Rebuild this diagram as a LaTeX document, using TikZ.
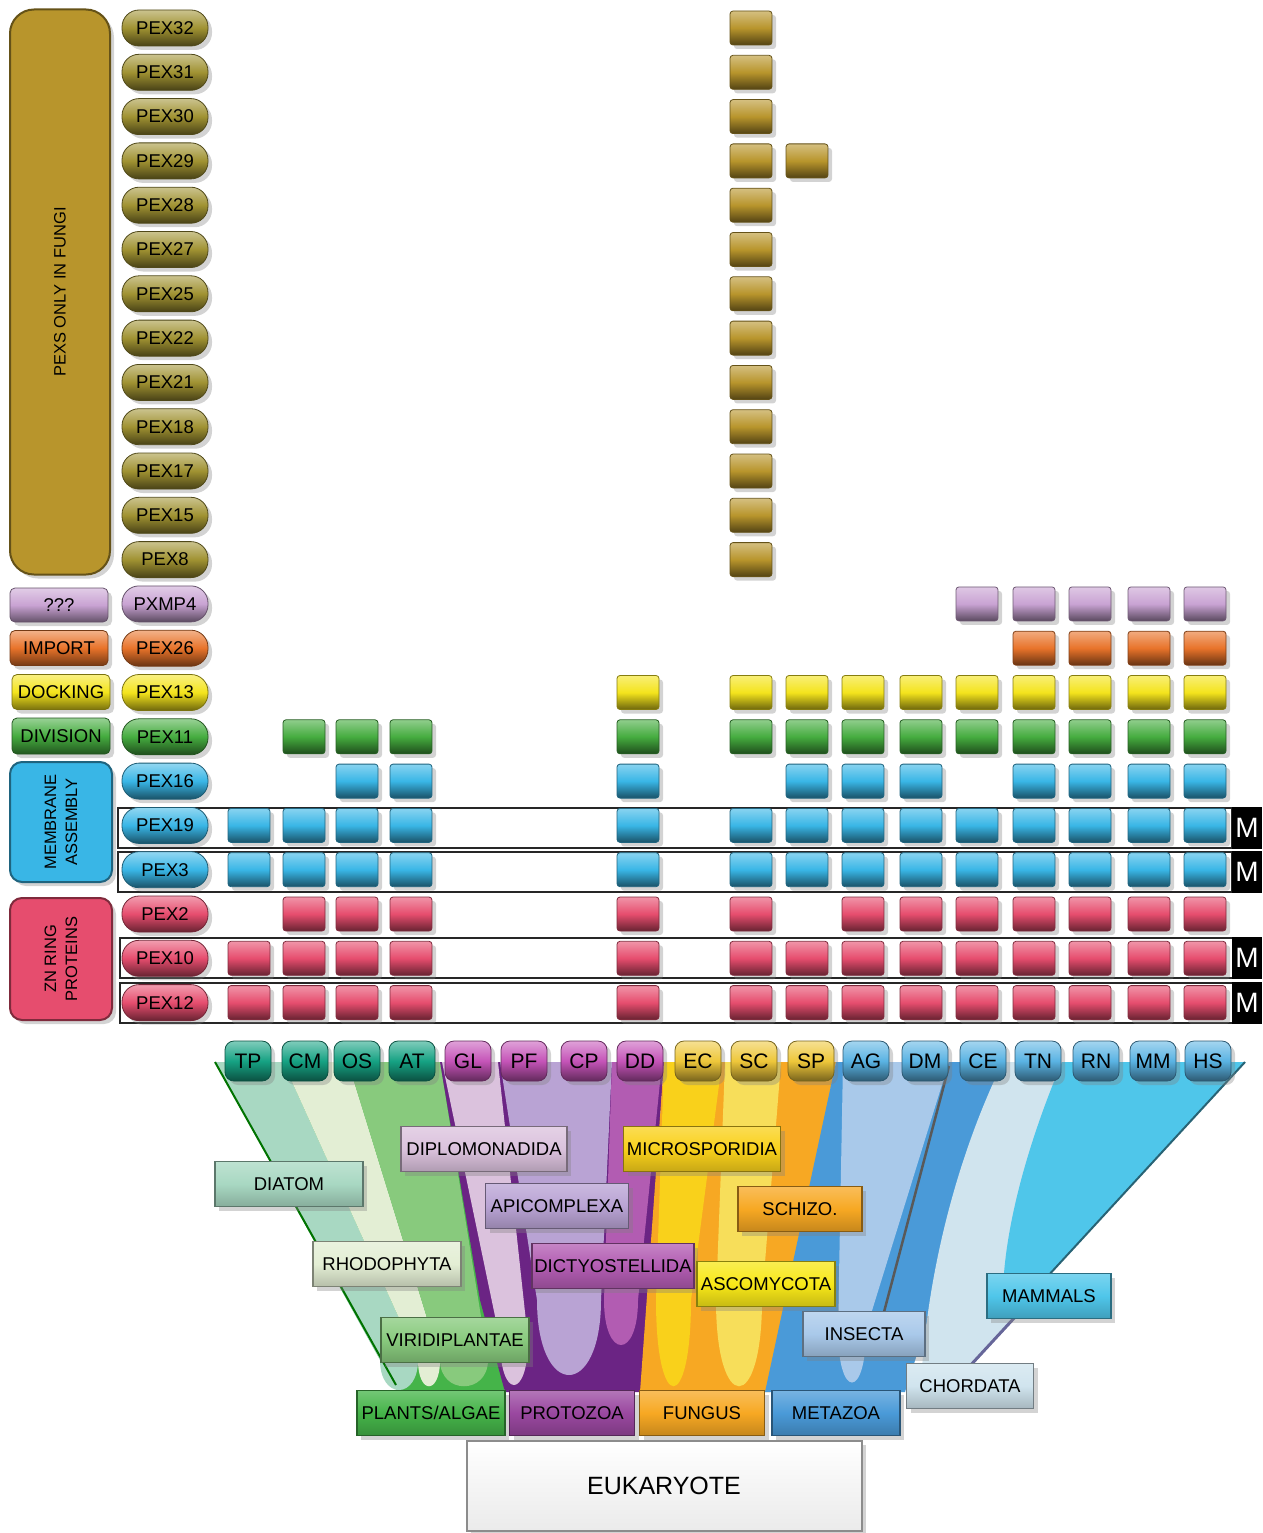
\documentclass[tikz,border=0pt]{standalone}
\usepackage{fontspec}
\setmainfont{Liberation Sans}
\usetikzlibrary{shadows,calc}
\definecolor{cGold}{HTML}{B8952C}
\definecolor{cPillGold}{HTML}{A09232}
\definecolor{cLilac}{HTML}{C9A3D3}
\definecolor{cOrange}{HTML}{E8732A}
\definecolor{cYellow}{HTML}{F4E41C}
\definecolor{cGreen}{HTML}{45AC3F}
\definecolor{cBlue}{HTML}{39B6E6}
\definecolor{cPink}{HTML}{E64D6E}
\definecolor{hTeal}{HTML}{16A283}
\definecolor{hMag}{HTML}{C554B8}
\definecolor{hYel}{HTML}{EEC73A}
\definecolor{hBlue}{HTML}{5AB3E3}
\definecolor{bPlant}{HTML}{45B449}
\definecolor{bTP}{HTML}{A8D8C2}
\definecolor{bCM}{HTML}{E3EED4}
\definecolor{bOS}{HTML}{88CA7D}
\definecolor{bProto}{HTML}{6B2484}
\definecolor{bGL}{HTML}{DBC2DD}
\definecolor{bPF}{HTML}{B9A3D4}
\definecolor{bDD}{HTML}{B25CB2}
\definecolor{bFung}{HTML}{F7A823}
\definecolor{bEC}{HTML}{F9D11B}
\definecolor{bSC}{HTML}{F7DE5A}
\definecolor{bMeta}{HTML}{4A9AD8}
\definecolor{bIns}{HTML}{A9C9EA}
\definecolor{bChord}{HTML}{D0E4EE}
\definecolor{bMam}{HTML}{4FC6EA}
\definecolor{gAscoY}{HTML}{F8E818}
\definecolor{gProto}{HTML}{9A48A0}
\newcommand\uband[7]{\fill[#1] (#2,1062) -- (#4,#6) .. controls (#4,#7) and (#5,#7) .. (#5,#6) -- (#3,1062) -- cycle;}
\newcommand\lfont{\fontsize{18.5}{20}\selectfont}
\newcommand\gfont{\fontsize{18.5}{20}\selectfont}
\newcommand\vfont{\fontsize{16.5}{21}\selectfont}
\tikzset{
  shd/.style={drop shadow={shadow xshift=4pt, shadow yshift=-4pt, opacity=0.35}},
  gem/.style={rounded corners=3pt, minimum width=42pt, minimum height=34pt, inner sep=0pt,
    draw=#1!55!black, line width=0.8pt, top color=#1!60!white, bottom color=#1!45!black, middle color=#1, shd},
  pill/.style={rounded corners=17pt, minimum width=86pt, minimum height=36pt, inner sep=0pt,
    draw=#1!50!black, line width=0.8pt, top color=#1!55!white, bottom color=#1!45!black, middle color=#1, font=\lfont, shd},
  cat/.style={rounded corners=5pt, minimum width=98pt, inner sep=0pt,
    draw=#1!50!black, line width=0.8pt, top color=#1!55!white, bottom color=#1!50!black, middle color=#1, font=\lfont, shd},
  catbig/.style={inner sep=0pt, fill=#1, draw=#1!55!black, line width=2pt, shd},
  hdr/.style={rounded corners=9pt, minimum width=46pt, minimum height=40pt, inner sep=0pt,
    draw=#1!50!black, line width=0.8pt, top color=#1!55!white, bottom color=#1!50!black, middle color=#1,
    font=\fontsize{21}{22}\selectfont, shd},
  gbox/.style={minimum height=45pt, inner sep=0pt, draw=#1!55!black, line width=1.2pt,
    top color=#1!75!white, bottom color=#1!80!black, middle color=#1, font=\gfont, shd},
  mbox/.style={draw=black!85, line width=2.4pt, minimum width=1114pt, minimum height=40pt, inner sep=0pt},
  mlab/.style={fill=black, text=white, minimum width=30pt, minimum height=42pt, inner sep=0pt,
    font=\fontsize{28}{30}\selectfont},
}
\begin{document}
\begin{tikzpicture}[x=1pt,y=-1pt]
\useasboundingbox (0,0) rectangle (1262,1533);
% ---------------- tree bands ----------------
\fill[bPlant] (215,1062) -- (440,1062) -- (505,1392) -- (398,1392) -- cycle;
\uband{bTP}{215}{283}{380}{418}{1360}{1400}
\uband{bCM}{283}{348}{418}{440}{1360}{1395}
\uband{bOS}{348}{440}{440}{488}{1360}{1395}
\draw[green!45!black, line width=2pt] (215,1062) -- (396,1385);
\fill[bProto] (440,1062) -- (664,1062) -- (642,1392) -- (505,1392) -- (480,1300) -- cycle;
\uband{bGL}{442}{498}{500}{528}{1340}{1400}
\uband{bPF}{500}{612}{537}{601}{1300}{1400}
\uband{bDD}{612}{662}{604}{638}{1300}{1360}
\fill[bFung] (664,1062) -- (836,1062) -- (770,1392) -- (640,1392) -- cycle;
\uband{bEC}{664}{722}{656}{691}{1300}{1415}
\uband{bSC}{725}{781}{716}{762}{1300}{1415}
\fill[bMeta] (836,1062) -- (1010,1062) -- (905,1392) -- (765,1392) -- cycle;
\uband{bIns}{843}{949}{838}{866}{1330}{1400}
\draw[black!65, line width=2.5pt] (949,1066) -- (884,1312);
\fill[bChord] (1003,1062) .. controls (960,1150) and (930,1260) .. (922,1368) -- (970,1368) -- (1040,1290) -- (1065,1062) -- cycle;
\draw[gray!80!blue, line width=3pt] (1040,1290) -- (968,1368);
\fill[bMam] (1062,1062) .. controls (1025,1150) and (1005,1230) .. (1003,1290) -- (1035,1290) -- (1245,1062) -- cycle;
\draw[bMam!50!black, line width=2pt] (1245,1062) -- (1035,1290);
% ---------------- group boxes ----------------
\node[gbox=bTP, minimum width=148pt] (diatom) at (289,1184) {DIATOM};
\node[gbox=bCM, minimum width=148pt] (rhodo) at (387,1264) {RHODOPHYTA};
\node[gbox=bOS, minimum width=148pt] (virid) at (455,1340) {VIRIDIPLANTAE};
\node[gbox=bPlant, minimum width=148pt] (plants) at (431,1413) {PLANTS/ALGAE};
\node[gbox=bGL, minimum width=166pt] (diplo) at (484,1149) {DIPLOMONADIDA};
\node[gbox=bPF, minimum width=143pt] (apico) at (557,1206) {APICOMPLEXA};
\node[gbox=bDD, minimum width=162pt] (dicty) at (613,1266) {DICTYOSTELLIDA};
\node[gbox=gProto, minimum width=125pt] (proto) at (572,1413) {PROTOZOA};
\node[gbox=bEC, minimum width=157pt] (micro) at (702,1149) {MICROSPORIDIA};
\node[gbox=bFung, minimum width=124pt] (schizo) at (800,1209) {SCHIZO.};
\node[gbox=gAscoY, minimum width=138pt] (asco) at (766,1284) {ASCOMYCOTA};
\node[gbox=bFung, minimum width=125pt] (fungus) at (702,1413) {FUNGUS};
\node[gbox=bIns, minimum width=122pt] (insecta) at (864,1334) {INSECTA};
\node[gbox=bMeta, minimum width=128pt] (metazoa) at (836,1413) {METAZOA};
\node[gbox=bChord, minimum width=127pt] (chorda) at (970,1386) {CHORDATA};
\node[gbox=bMam, minimum width=124pt] (mammals) at (1049,1296) {MAMMALS};
\node[draw=black!45, line width=2pt, top color=white, bottom color=black!8, minimum width=395pt, minimum height=90pt,
  font=\fontsize{25}{27}\selectfont, shd] (euk) at (664,1486) {EUKARYOTE};
% ---------------- column headers ----------------
\foreach \n/\x/\hc in {TP/248/hTeal,CM/305/hTeal,OS/357/hTeal,AT/412/hTeal,
  GL/468/hMag,PF/524/hMag,CP/584/hMag,DD/640/hMag,
  EC/698/hYel,SC/754/hYel,SP/811/hYel,
  AG/866/hBlue,DM/925/hBlue,CE/983/hBlue,TN/1038/hBlue,RN/1096/hBlue,MM/1153/hBlue,HS/1208/hBlue}
  {\node[hdr=\hc] (h-\n) at (\x,1061) {\n};}
% ---------------- M boxes ----------------
\node[mbox] (mb19) at (675,828) {};
\node[mbox] (mb3) at (675,872) {};
\node[mbox] (mb10) at (677,958) {};
\node[mbox] (mb12) at (677,1003) {};
% ---------------- category boxes ----------------
\node[catbig=cGold, minimum width=100pt, minimum height=565pt, rounded corners=24pt] (fungi) at (60,292) {};
\node[rotate=90, font=\vfont] (fungi-t) at (fungi.center) {PEXS ONLY IN FUNGI};
\node[cat=cLilac, minimum height=34pt] (unk) at (59,605) {???};
\node[cat=cOrange, minimum height=35pt] (import) at (59,648) {IMPORT};
\node[cat=cYellow, minimum height=35pt] (docking) at (61,692) {DOCKING};
\node[cat=cGreen, minimum height=36pt] (division) at (61,736) {DIVISION};
\node[catbig=cBlue, minimum width=102pt, minimum height=120pt, rounded corners=12pt] (membrane) at (61,822) {};
\node[rotate=90, font=\vfont, align=center] (membrane-t) at (membrane.center) {MEMBRANE\\ASSEMBLY};
\node[catbig=cPink, minimum width=102pt, minimum height=122pt, rounded corners=12pt] (znring) at (61,959) {};
\node[rotate=90, font=\vfont, align=center] (znring-t) at (znring.center) {ZN RING\\PROTEINS};
% ---------------- rows: labels and squares ----------------
\foreach \r/\lab/\lc/\pc/\cols in {
  0/PEX32/cPillGold/cGold/{10}, 1/PEX31/cPillGold/cGold/{10}, 2/PEX30/cPillGold/cGold/{10},
  3/PEX29/cPillGold/cGold/{10,11}, 4/PEX28/cPillGold/cGold/{10}, 5/PEX27/cPillGold/cGold/{10},
  6/PEX25/cPillGold/cGold/{10}, 7/PEX22/cPillGold/cGold/{10}, 8/PEX21/cPillGold/cGold/{10},
  9/PEX18/cPillGold/cGold/{10}, 10/PEX17/cPillGold/cGold/{10}, 11/PEX15/cPillGold/cGold/{10},
  12/PEX8/cPillGold/cGold/{10},
  13/PXMP4/cLilac/cLilac/{14,15,16,17,18},
  14/PEX26/cOrange/cOrange/{15,16,17,18},
  15/PEX13/cYellow/cYellow/{8,10,11,12,13,14,15,16,17,18},
  16/PEX11/cGreen/cGreen/{2,3,4,8,10,11,12,13,14,15,16,17,18},
  17/PEX16/cBlue/cBlue/{3,4,8,11,12,13,15,16,17,18},
  18/PEX19/cBlue/cBlue/{1,2,3,4,8,10,11,12,13,14,15,16,17,18},
  19/PEX3/cBlue/cBlue/{1,2,3,4,8,10,11,12,13,14,15,16,17,18},
  20/PEX2/cPink/cPink/{2,3,4,8,10,12,13,14,15,16,17,18},
  21/PEX10/cPink/cPink/{1,2,3,4,8,10,11,12,13,14,15,16,17,18},
  22/PEX12/cPink/cPink/{1,2,3,4,8,10,11,12,13,14,15,16,17,18}}
{
  \pgfmathsetmacro\yy{28+44.3*\r}
  \node[pill=\lc] (lab-\r) at (165,\yy) {\lab};
  \foreach \c in \cols {
    \pgfmathsetmacro\xx{{249,304,357,411,468,524,584,638,698,751,807,863,921,977,1034,1090,1149,1205}[\c-1]}
    \node[gem=\pc] (sq-\r-\c) at (\xx,\yy) {};
  }
}
% ---------------- M labels ----------------
\node[mlab] (m19) at (1247,828) {M};
\node[mlab] (m3) at (1247,872) {M};
\node[mlab] (m10) at (1247,958) {M};
\node[mlab] (m12) at (1247,1003) {M};
\end{tikzpicture}
\end{document}
